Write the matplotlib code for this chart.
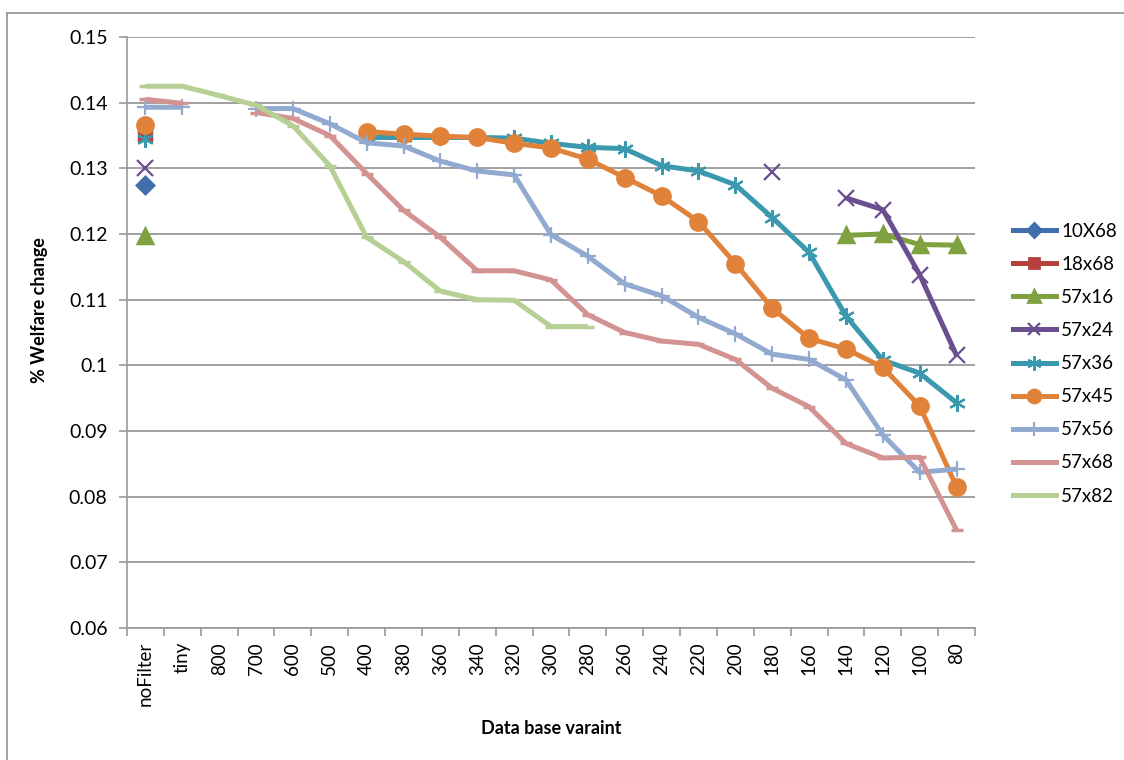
import numpy as np
import matplotlib.pyplot as plt
from matplotlib.lines import Line2D

nan = np.nan

# Categorías del eje x
categories = ['noFilter', 'tiny', '800', '700', '600', '500', '400', '380', '360',
              '340', '320', '300', '280', '260', '240', '220', '200', '180', '160',
              '140', '120', '100', '80']

# Series (nan = sin dato)
s10x68 = [0.1275] + [nan] * 22
s18x68 = [0.1353] + [nan] * 22
s57x16 = [0.1197] + [nan] * 18 + [0.1198, 0.1200, 0.1184, 0.1183]
s57x24 = [0.1301] + [nan] * 16 + [0.1295, nan, 0.1255, 0.1237, 0.1138, 0.1015]
s57x36 = [0.1345, nan, nan, nan, nan, nan, 0.1347, 0.1347, 0.1347, 0.1347, 0.1346,
          0.1338, 0.1332, 0.1330, 0.1304, 0.1296, 0.1275, 0.1225, 0.1172, 0.1075,
          0.1008, 0.0988, 0.0943]
s57x45 = [0.1366, nan, nan, nan, nan, nan, 0.1356, 0.1352, 0.1349, 0.1347, 0.1338,
          0.1331, 0.1314, 0.1286, 0.1258, 0.1219, 0.1155, 0.1087, 0.1041, 0.1025,
          0.0997, 0.0938, 0.0815]
s57x56 = [0.1393, 0.1393, nan, 0.1391, 0.1391, 0.1368, 0.1339, 0.1334, 0.1311, 0.1296,
          0.1290, 0.1199, 0.1166, 0.1124, 0.1106, 0.1073, 0.1048, 0.1017, 0.1009,
          0.0978, 0.0894, 0.0837, 0.0842]
s57x68 = [0.1405, 0.1399, nan, 0.1385, 0.1376, 0.1350, 0.1292, 0.1236, 0.1195, 0.1144,
          0.1144, 0.1130, 0.1077, 0.1050, 0.1037, 0.1032, 0.1009, 0.0965, 0.0937,
          0.0881, 0.0859, 0.0860, 0.0749]
s57x82 = [0.1425, 0.1425, 0.1411, 0.1396, 0.1365, 0.1304, 0.1195, 0.1158, 0.1113,
          0.1100, 0.1099, 0.1059, 0.1059] + [nan] * 10

series = [
    ('10X68', s10x68, '#3F6EAA', 'D', 8.5),
    ('18x68', s18x68, '#B5413E', 's', 8.5),
    ('57x16', s57x16, '#7FA13F', '^', 10.5),
    ('57x24', s57x24, '#6A4E8E', 'x', 11),
    ('57x36', s57x36, '#3A99AF', (6, 2, 0), 12),
    ('57x45', s57x45, '#E0823A', 'o', 11),
    ('57x56', s57x56, '#92A9D0', '+', 12),
    ('57x68', s57x68, '#D49393', '_', 9),
    ('57x82', s57x82, '#B6CF94', '_', 9),
]

plt.rcParams['font.family'] = ['Lato', 'DejaVu Sans']

fig = plt.figure(figsize=(11.24, 7.6), dpi=100)
ax = fig.add_axes([127 / 1124, 1 - 628 / 760, 848 / 1124, 591 / 760])

x = np.arange(len(categories))
for name, vals, col, mk, ms in series:
    ax.plot(x, vals, color=col, lw=3.6, marker=mk, markersize=ms,
            markeredgewidth=1.6 if mk in ('x', '+', (6, 2, 0)) else 2.5,
            markeredgecolor=col, markerfacecolor=col, label=name,
            solid_capstyle='butt')

ax.set_xlim(-0.5, len(categories) - 0.5)
ax.set_ylim(0.06, 0.15)
ax.set_yticks(np.arange(0.06, 0.1501, 0.01))
ax.set_yticklabels(['0.06', '0.07', '0.08', '0.09', '0.1', '0.11', '0.12',
                    '0.13', '0.14', '0.15'], fontsize=14)
ax.set_xticks(x)
ax.set_xticklabels(categories, rotation=90, fontsize=13.5)
ax.set_xticks(np.arange(-0.5, len(categories), 1), minor=True)
ax.tick_params(axis='x', which='major', length=0, pad=10)
ax.tick_params(axis='x', which='minor', length=6, color='#999999', width=1.2)
ax.tick_params(axis='y', length=6, color='#999999', width=1.2, pad=8)

ax.grid(axis='y', color='#999999', lw=1.3)
ax.set_axisbelow(True)
for s in ['top', 'right']:
    ax.spines[s].set_visible(False)
for s in ['left', 'bottom']:
    ax.spines[s].set_color('#999999')
    ax.spines[s].set_linewidth(1.2)

fig.text(40 / 1124, 1 - 310 / 760, '% Welfare change', fontsize=13,
         fontweight='bold', rotation=90, ha='center', va='center')
fig.text(551 / 1124, 1 - 728 / 760, 'Data base varaint', fontsize=13,
         fontweight='bold', ha='center', va='center')

handles = []
for name, vals, col, mk, ms in series:
    handles.append(Line2D([], [], color=col, lw=3.6, marker=mk,
                          markersize=ms * 0.85, markerfacecolor=col,
                          markeredgecolor=col, label=name,
                          markeredgewidth=1.6 if mk in ('x', '+', (6, 2, 0)) else 2))
fig.legend(handles=handles, loc='upper left', bbox_to_anchor=(1007 / 1124, 1 - 217 / 760),
           bbox_transform=fig.transFigure, frameon=False, fontsize=13.5,
           handlelength=2.3, labelspacing=0.86, handletextpad=0.3,
           borderaxespad=0, borderpad=0.3)

# Borde del área del gráfico
fig.add_artist(Line2D([7 / 1124, 1], [1 - 13 / 760, 1 - 13 / 760],
                      color='#999999', lw=1.3))
fig.add_artist(Line2D([7 / 1124, 7 / 1124], [0, 1 - 13 / 760],
                      color='#999999', lw=1.3))

fig.savefig('out.png', dpi=100)
